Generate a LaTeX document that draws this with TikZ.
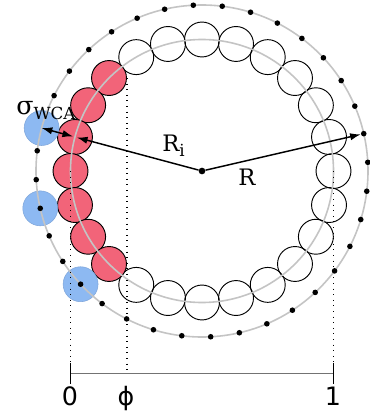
\documentclass[tikz,border=0pt]{standalone}
\usepackage{fontspec}
\setmainfont{DejaVu Serif}
\setsansfont{DejaVu Sans}
\usetikzlibrary{arrows.meta}
\definecolor{beadred}{HTML}{F26479}
\definecolor{wcablue}{HTML}{8DB9F2}
\definecolor{ringgray}{HTML}{C4C4C4}

\begin{document}
\begin{tikzpicture}[
  x=0.75pt,y=0.75pt,
  bead/.style={circle,draw=black,line width=0.7pt,minimum size=26.2pt,inner sep=0pt},
  redbead/.style={bead,fill=beadred},
  wca/.style={circle,fill=wcablue,draw=wcablue!90!black,line width=0.4pt,minimum size=26.2pt,inner sep=0pt},
  partdot/.style={circle,fill=black,minimum size=4.2pt,inner sep=0pt},
  ring/.style={draw=ringgray,line width=1.2pt},
  arr/.style={-{Latex[length=8pt,width=5.5pt]},line width=1.1pt},
  darr/.style={{Latex[length=8pt,width=5.5pt]}-{Latex[length=8pt,width=5.5pt]},line width=1.1pt},
  guide/.style={dash pattern=on 0.8pt off 3.4pt,line width=0.9pt},
  axisline/.style={draw=black!55,line width=0.75pt},
  tickline/.style={line width=1.2pt},
  lbl/.style={inner sep=0pt,anchor=base west,font=\fontsize{17}{20}\selectfont},
  num/.style={inner sep=0pt,anchor=base,font=\sffamily\fontsize{19}{22}\selectfont}
]
\useasboundingbox (-202,-243) rectangle (168,171);

\foreach \k in {0,...,8,16,17,...,23}
  \node[bead] (b\k) at ({15*\k}:131.5) {};
\foreach \k in {9,...,15}
  \node[redbead] (b\k) at ({15*\k}:131.5) {};

\node[wca] (w1) at (165:166) {};
\node[wca] (w2) at (193:166) {};
\node[wca] (w3) at (223:166) {};

\node[partdot,minimum size=5pt] (c) at (0,0) {};
\draw[ring] (c.center) circle[radius=131.5];
\draw[ring] (c.center) circle[radius=166];

\foreach \k in {0,...,15,17,18,...,35}
  \node[partdot] (d\k) at ({3+10*\k}:166) {};

\coordinate (z0) at (-131.5,-202);
\coordinate (z1) at (131.5,-202);
\draw[guide] (b12.center) -- (z0);
\draw[guide] (b9.east) -- (b9.east |- z0);
\draw[guide] (b0.center) -- (z1);
\draw[axisline] (z0) -- (z1);
\draw[tickline] (z0) ++(0,10.5) -- ++(0,-21);
\draw[tickline] (z1) ++(0,10.5) -- ++(0,-21);

\draw[arr] (c) -- (d1);
\draw[arr,shorten >=1.5pt] (c) -- (b11.center);
\draw[darr,shorten >=1.5pt] (w1.center) -- (b11.center);

\node[lbl,font=\fontsize{19}{22}\selectfont] (sig) at (-186,56) {σ\raisebox{-3.75pt}{\fontsize{12.5}{14}\selectfont WCA}};
\node[lbl] (ri) at (-40,20) {R\raisebox{-4.5pt}{\fontsize{12.5}{14}\selectfont i}};
\node[lbl] (rr) at (36,-14) {R};
\node[num] (l0) at (-132,-234) {0};
\node[num] (lphi) at (-76,-234) {ϕ};
\node[num] (l1) at (131,-234) {1};
\end{tikzpicture}
\end{document}
